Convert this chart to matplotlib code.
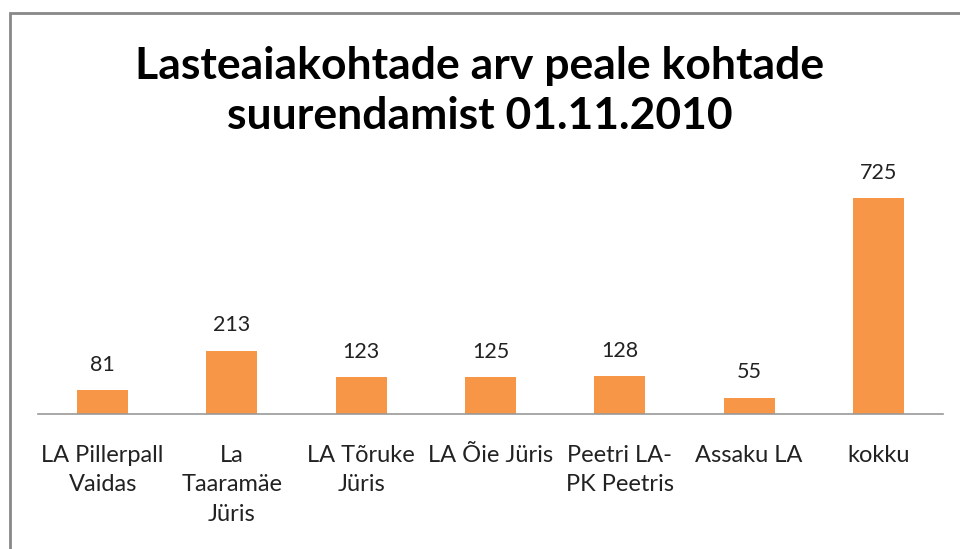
import matplotlib
matplotlib.use("Agg")
import matplotlib.pyplot as plt
from matplotlib.patches import Rectangle

categories = ["LA Pillerpall\nVaidas", "La\nTaaramäe\nJüris", "LA Tõruke\nJüris", "LA Õie Jüris",
              "Peetri LA-\nPK Peetris", "Assaku LA", "kokku"]
values = [81, 213, 123, 125, 128, 55, 725]
title = "Lasteaiakohtade arv peale kohtade\nsuurendamist 01.11.2010"

plt.rcParams['font.family'] = ['Lato', 'DejaVu Sans']

W, H = 960, 549
fig = plt.figure(figsize=(W/100, H/100), dpi=100)
fig.patch.set_facecolor('white')

ax = fig.add_axes([38/W, 1-414/H, (943-38)/W, 238/H])
x = list(range(len(values)))
bars = ax.bar(x, values, width=0.395, color='#F79646')
ax.set_xlim(-0.5, len(values)-0.5)
ax.set_ylim(0, 800)
for s in ['top', 'right', 'left']:
    ax.spines[s].set_visible(False)
ax.spines['bottom'].set_color('#999999')
ax.spines['bottom'].set_linewidth(1.2)
ax.set_yticks([])
ax.set_xticks(x)
ax.set_xticklabels(categories, fontsize=17, color='#222222', linespacing=1.5)
ax.tick_params(axis='x', length=0, pad=22)

for b, v in zip(bars, values):
    ax.annotate(str(v), (b.get_x()+b.get_width()/2, v), xytext=(0, 11),
                textcoords='offset points', ha='center', va='bottom',
                fontsize=15.5, color='#222222')

fig.text(0.5, 1-91/H, title, ha='center', va='center', fontsize=32,
         fontweight='bold', linespacing=1.3, color='black')

fig.patches.append(Rectangle((10/W, -0.1), 1.2, 1-13/H+0.1, transform=fig.transFigure,
                             fill=False, edgecolor='#888888', linewidth=2))

fig.savefig('out.png', dpi=100)
